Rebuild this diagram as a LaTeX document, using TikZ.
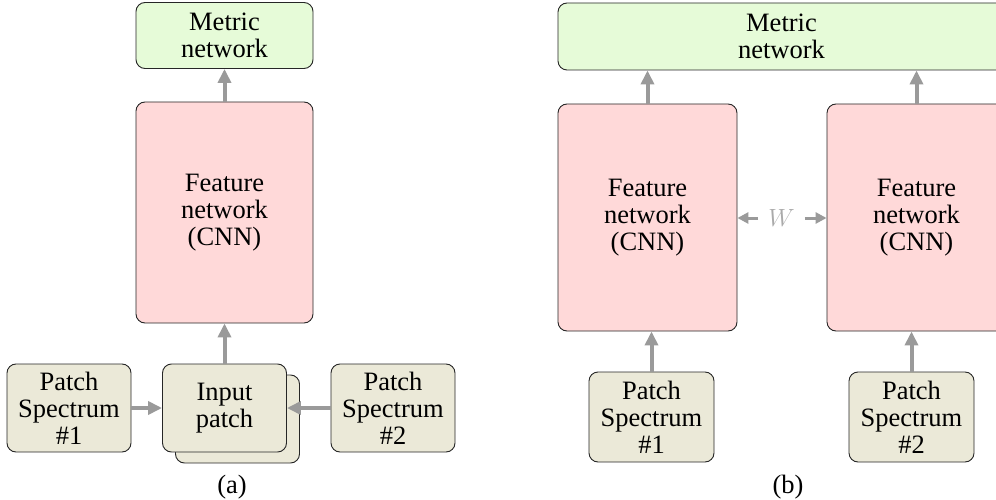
\documentclass[tikz,border=0pt]{standalone}
\usepackage{fontspec}
\setmainfont{Liberation Serif}
\newfontfamily\tnr{Liberation Serif}
\usetikzlibrary{arrows.meta}
\definecolor{metricfill}{HTML}{E6FBD8}
\definecolor{featfill}{HTML}{FFD9D9}
\definecolor{patchfill}{HTML}{EBE9D8}
\definecolor{arrgray}{HTML}{9A9A9A}
\definecolor{wgray}{HTML}{AAAAAA}
\tikzset{
  box/.style={draw=black!85, line width=0.9pt, rounded corners=9pt, align=center,
    inner sep=0pt, font=\tnr\fontsize{26.5}{27}\selectfont},
  metricbox/.style={box, fill=metricfill},
  featbox/.style={box, fill=featfill},
  patchbox/.style={box, fill=patchfill},
  bigarrow/.style={draw=arrgray, line width=4pt, -{Triangle[length=14pt,width=13pt]}},
  smallarrow/.style={draw=arrgray, line width=3pt, -{Triangle[length=11pt,width=11pt]}},
  caption/.style={font=\tnr\fontsize{26.5}{27}\selectfont}
}
\begin{document}
\begin{tikzpicture}[x=1pt,y=-1pt]
\useasboundingbox (0,0) rectangle (996,500);
\clip (0,0) rectangle (996,500);
% (a)
\node[metricbox, minimum width=177pt, minimum height=66pt] (ma) at (224.5,35.5) {Metric\\network};
\node[featbox, minimum width=177pt, minimum height=221pt] (fa) at (224.5,212.5) {Feature\\network\\(CNN)};
\node[patchbox, minimum width=124pt, minimum height=88pt] (inback) at (237.5,419) {};
\node[patchbox, minimum width=124pt, minimum height=88pt] (inp) at (224.5,408) {Input\\patch};
\node[patchbox, minimum width=124pt, minimum height=88pt] (ps1) at (69,408) {Patch\\Spectrum\\\#1};
\node[patchbox, minimum width=124pt, minimum height=88pt] (ps2) at (393,408) {Patch\\Spectrum\\\#2};
\draw[bigarrow] (fa.north) -- (ma.south);
\draw[bigarrow] (inp.north) -- (fa.south);
\draw[bigarrow] (ps1.east) -- (inp.west);
\draw[bigarrow] (ps2.west) -- (inp.east);
\node[caption] (capa) at (232,487) {(a)};
% (b)
\node[metricbox, minimum width=447pt, minimum height=67pt] (mb) at (781.5,36.5) {Metric\\network};
\node[featbox, minimum width=179pt, minimum height=227pt] (fb1) at (647.5,217.5) {Feature\\network\\(CNN)};
\node[featbox, minimum width=179pt, minimum height=227pt] (fb2) at (916.5,217.5) {Feature\\network\\(CNN)};
\node[patchbox, minimum width=125pt, minimum height=90pt] (pb1) at (651.5,417) {Patch\\Spectrum\\\#1};
\node[patchbox, minimum width=125pt, minimum height=90pt] (pb2) at (911.5,417) {Patch\\Spectrum\\\#2};
\draw[bigarrow] (fb1.north) -- (fb1.north |- mb.south);
\draw[bigarrow] (fb2.north) -- (fb2.north |- mb.south);
\draw[bigarrow] (pb1.north) -- (pb1.north |- fb1.south);
\draw[bigarrow] (pb2.north) -- (pb2.north |- fb2.south);
\node[text=wgray, font=\fontsize{26.5}{27}\selectfont, inner sep=10pt] (w) at (781.5,218) {$W$};
\draw[smallarrow] (w.west) -- (w.west -| fb1.east);
\draw[smallarrow] (w.east) -- (w.east -| fb2.west);
\node[caption] (capb) at (788,487) {(b)};
\end{tikzpicture}
\end{document}
